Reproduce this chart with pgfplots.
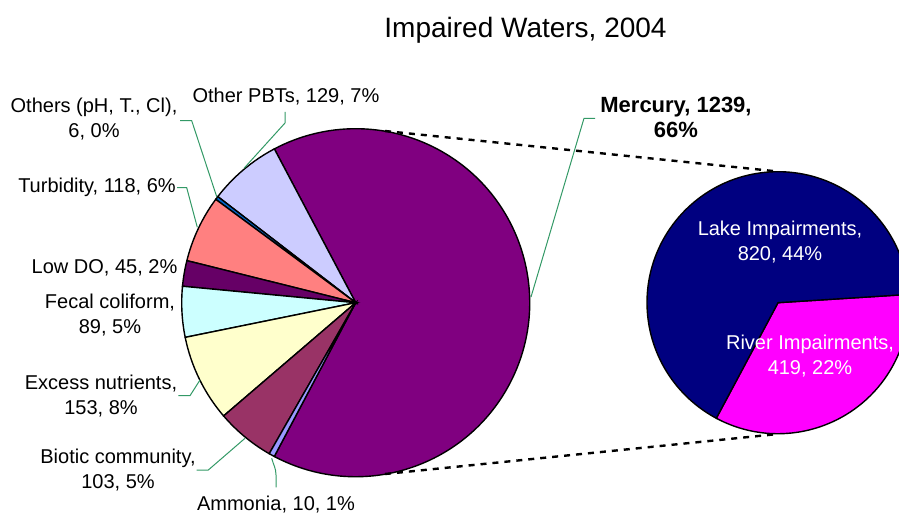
\documentclass[border=0pt]{standalone}
\usepackage{pgfplots}
\pgfplotsset{compat=1.18}
\usepackage{fontspec}
\setmainfont{Liberation Sans}

\definecolor{cMer}{HTML}{800080}
\definecolor{cPBT}{HTML}{CCCCFF}
\definecolor{cOth}{HTML}{0066CC}
\definecolor{cTur}{HTML}{FF8080}
\definecolor{cDO}{HTML}{660066}
\definecolor{cFec}{HTML}{CCFFFF}
\definecolor{cExc}{HTML}{FFFFCC}
\definecolor{cBio}{HTML}{993366}
\definecolor{cAmm}{HTML}{9999FF}
\definecolor{cLake}{HTML}{000080}
\definecolor{cRiv}{HTML}{FF00FF}
\definecolor{lead}{HTML}{339966}

\begin{document}
\begin{tikzpicture}[lbl/.style={font={\fontsize{10}{12.5}\selectfont},align=center,inner sep=0pt}]
\begin{axis}[name=ax,width=449.5pt,height=257.5pt,scale only axis,
 xmin=0,xmax=899,ymin=0,ymax=515,hide axis]
% main pie: 1892 impairments, mercury slice split out on the right
\def\tot{1892}
\pgfmathsetmacro\half{1239/\tot*180}
\edef\tmp{\noexpand\fill[cMer,draw=black,line width=0.7pt] (axis cs:355.7,212.3) -- ++(-\half:87pt)
  arc[start angle=-\half,end angle=\half,radius=87pt] -- cycle;}\tmp
\xdef\curA{\half}
\foreach \v/\c in {129/cPBT,6/cOth,118/cTur,45/cDO,89/cFec,153/cExc,103/cBio,10/cAmm}{
  \pgfmathsetmacro\nA{\curA+\v/\tot*360}
  \edef\tmp{\noexpand\fill[\c,draw=black,line width=0.7pt] (axis cs:355.7,212.3) -- ++(\curA:87pt)
    arc[start angle=\curA,end angle=\nA,radius=87pt] -- cycle;}\tmp
  \xdef\curA{\nA}
}
% second pie: mercury 1239 = lake 820 + river 419
\pgfmathsetmacro\rs{-118.1}
\pgfmathsetmacro\re{\rs+419/1239*360}
\pgfmathsetmacro\le{\rs+360}
\edef\tmp{\noexpand\fill[cRiv,draw=black,line width=0.7pt] (axis cs:778,212.3) -- ++(\rs:65.5pt)
  arc[start angle=\rs,end angle=\re,radius=65.5pt] -- cycle;}\tmp
\edef\tmp{\noexpand\fill[cLake,draw=black,line width=0.7pt] (axis cs:778,212.3) -- ++(\re:65.5pt)
  arc[start angle=\re,end angle=\le,radius=65.5pt] -- cycle;}\tmp

% connectors
\draw[black,line width=1.2pt,dash pattern=on 3pt off 3pt] (axis cs:385,384) -- (axis cs:778,343.5);
\draw[black,line width=1.2pt,dash pattern=on 3pt off 3pt] (axis cs:385,41) -- (axis cs:778,81);

% leader lines
\draw[lead,line width=0.5pt] (axis cs:180,394.3) -- (axis cs:191.7,394.3) -- (axis cs:216.7,318.3);
\draw[lead,line width=0.5pt] (axis cs:285,403) -- (axis cs:285,392) -- (axis cs:244,346.7);
\draw[lead,line width=0.5pt] (axis cs:177,327.3) -- (axis cs:186.7,327.3) -- (axis cs:197.3,287.7);
\draw[lead,line width=0.5pt] (axis cs:178.3,119.3) -- (axis cs:190,119.3) -- (axis cs:200,135);
\draw[lead,line width=0.5pt] (axis cs:196.7,45) -- (axis cs:208.3,45) -- (axis cs:245,76.7);
\draw[lead,line width=0.5pt] (axis cs:276,27.7) -- (axis cs:276,40) to[out=90,in=-75] (axis cs:271.7,56.7);
\draw[lead,line width=0.5pt] (axis cs:595,396.7) -- (axis cs:584,396.7) -- (axis cs:531,218);

% labels
\node[font={\fontsize{14}{16}\selectfont},inner sep=0pt] at (axis cs:525.5,485) {Impaired Waters, 2004};
\node[lbl] at (axis cs:94,396) {Others (pH, T., Cl),\\6, 0\%};
\node[lbl] at (axis cs:286,418) {Other PBTs, 129, 7\%};
\node[lbl] at (axis cs:97,328) {Turbidity, 118, 6\%};
\node[lbl] at (axis cs:104.5,247) {Low DO, 45, 2\%};
\node[lbl] at (axis cs:110,200) {Fecal coliform,\\89, 5\%};
\node[lbl] at (axis cs:101,119) {Excess nutrients,\\153, 8\%};
\node[lbl] at (axis cs:118,45) {Biotic community,\\103, 5\%};
\node[lbl] at (axis cs:276,10) {Ammonia, 10, 1\%};
\node[lbl,font={\fontsize{11}{12.5}\selectfont\bfseries}] at (axis cs:676,398) {Mercury, 1239,\\66\%};
\node[lbl,white] at (axis cs:780,273) {Lake Impairments,\\820, 44\%};
\node[lbl,white] at (axis cs:810,158.5) {River Impairments,\\419, 22\%};
\end{axis}
\pgfresetboundingbox
\path[use as bounding box] (ax.south west) rectangle (ax.north east);
\end{tikzpicture}
\end{document}
